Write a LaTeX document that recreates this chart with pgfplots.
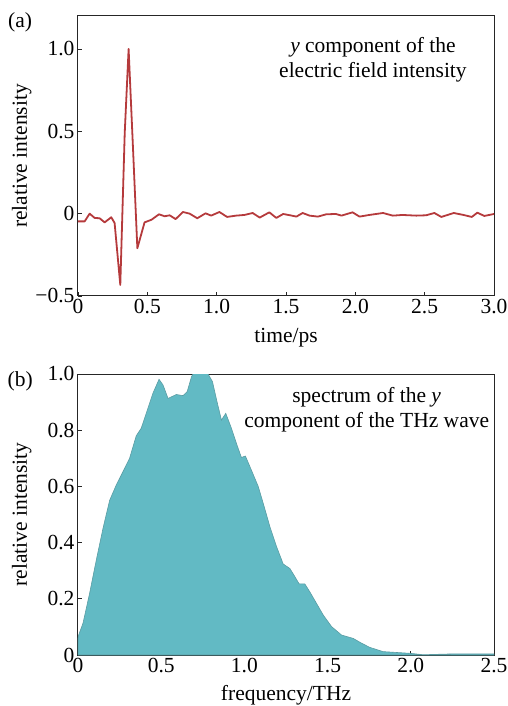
\documentclass[border=0pt]{standalone}
\usepackage{fontspec}
\setmainfont{Liberation Serif}
\usepackage{pgfplots}
\pgfplotsset{compat=1.18}
\definecolor{redline}{HTML}{B53A3C}
\definecolor{tealfill}{HTML}{62BAC4}
\definecolor{tealedge}{HTML}{5A9CA3}
\begin{document}
\begin{tikzpicture}[font=\fontsize{21.5}{25}\selectfont]
\pgfplotsset{
  every axis/.append style={
    font=\fontsize{21.5}{25}\selectfont,
    scale only axis,
    width=416pt,
    axis line style={line width=1pt, black!85},
    tick style={line width=0.8pt, black!85},
    tick align=inside,
    xtick pos=left, ytick pos=left,
    major tick length=4pt,
    /pgf/number format/assume math mode=true,
    clip mode=individual,
  }
}
% (a)
\begin{axis}[
  name=top,
  at={(0,0)}, anchor=south west,
  height=280pt,
  xmin=0, xmax=3, ymin=-0.5, ymax=1.2,
  xtick={0,0.5,1,1.5,2,2.5,3},
  xticklabels={0,0.5,1.0,1.5,2.0,2.5,3.0},
  ytick={-0.5,0,0.5,1},
  yticklabels={−0.5,0,0.5,1.0},
  xlabel={time/ps},
  ylabel={relative intensity},
  xlabel style={at={(axis description cs:0.5,-0.150)}, anchor=center},
  ylabel style={at={(axis description cs:-0.135,0.5)}, anchor=center},
]
\addplot[redline, line width=1.8pt, line join=round] coordinates {
(0.00,-0.047) (0.048,-0.047) (0.084,0.000) (0.12,-0.026) (0.156,-0.028)
(0.192,-0.053) (0.24,-0.022) (0.264,-0.057) (0.305,-0.433) (0.337,0.49)
(0.365,1.00) (0.397,0.39) (0.428,-0.21) (0.48,-0.053) (0.53,-0.037)
(0.584,-0.004) (0.625,-0.016) (0.661,-0.010) (0.704,-0.033) (0.757,0.010)
(0.805,0.000) (0.86,-0.028) (0.92,0.002) (0.96,-0.012) (1.02,0.010)
(1.075,-0.020) (1.14,-0.012) (1.20,-0.008) (1.26,0.004) (1.31,-0.024)
(1.38,0.008) (1.43,-0.026) (1.48,-0.002) (1.53,-0.010) (1.575,-0.018)
(1.62,0.004) (1.67,-0.012) (1.73,-0.018) (1.79,-0.004) (1.86,-0.002)
(1.90,-0.012) (1.98,0.008) (2.03,-0.018) (2.10,-0.008) (2.20,0.004)
(2.27,-0.012) (2.34,-0.008) (2.44,-0.012) (2.51,-0.010) (2.57,0.004)
(2.62,-0.020) (2.71,0.004) (2.78,-0.008) (2.84,-0.020) (2.88,0.006)
(2.93,-0.014) (3.00,-0.002)
};
\node[anchor=base] at (axis description cs:0.709,0.868) {\textit{y} component of the};
\node[anchor=base] at (axis description cs:0.709,0.779) {electric field intensity};
\node[anchor=center] at (axis description cs:-0.139,0.979) {(a)};
\end{axis}
% (b)
\begin{axis}[
  name=bot,
  at={(0,-359pt)}, anchor=south west,
  height=281pt,
  xmin=0, xmax=2.5, ymin=0, ymax=1.0,
  xtick={0,0.5,1,1.5,2,2.5},
  xticklabels={0,0.5,1.0,1.5,2.0,2.5},
  ytick={0,0.2,0.4,0.6,0.8,1.0},
  yticklabels={0,0.2,0.4,0.6,0.8,1.0},
  xlabel={frequency/THz},
  ylabel={relative intensity},
  xlabel style={at={(axis description cs:0.5,-0.143)}, anchor=center},
  ylabel style={at={(axis description cs:-0.135,0.5)}, anchor=center},
]
\addplot[fill=tealfill, draw=tealedge, line width=0.6pt] coordinates {
(0.000,0.060) (0.004,0.071) (0.03,0.113) (0.07,0.220) (0.11,0.338)
(0.15,0.450) (0.19,0.550) (0.23,0.605) (0.27,0.652) (0.31,0.700)
(0.35,0.780) (0.38,0.807) (0.41,0.860) (0.45,0.931) (0.487,0.981)
(0.511,0.961) (0.541,0.913) (0.591,0.927) (0.631,0.923) (0.656,0.937)
(0.682,0.990) (0.70,1.010) (0.74,1.030) (0.772,1.010) (0.808,0.973)
(0.836,0.900) (0.862,0.836) (0.888,0.860) (0.922,0.807) (0.952,0.753)
(0.982,0.703) (1.006,0.708) (1.042,0.658) (1.083,0.600) (1.113,0.540)
(1.153,0.457) (1.193,0.386) (1.233,0.324) (1.273,0.308) (1.297,0.285)
(1.329,0.253) (1.363,0.253) (1.393,0.225) (1.433,0.184) (1.474,0.142)
(1.524,0.101) (1.584,0.071) (1.654,0.059) (1.704,0.042) (1.754,0.027)
(1.834,0.012) (1.915,0.009) (1.995,0.006) (2.075,0.001) (2.255,0.004)
(2.50,0.004)
} \closedcycle;
\node[anchor=base] at (axis description cs:0.694,0.897) {spectrum of the \textit{y}};
\node[anchor=base] at (axis description cs:0.694,0.811) {component of the THz wave};
\node[anchor=center] at (axis description cs:-0.139,0.975) {(b)};
\end{axis}
\pgfresetboundingbox
\path (-78pt,-410pt) rectangle (430pt,296pt);
\end{tikzpicture}
\end{document}
